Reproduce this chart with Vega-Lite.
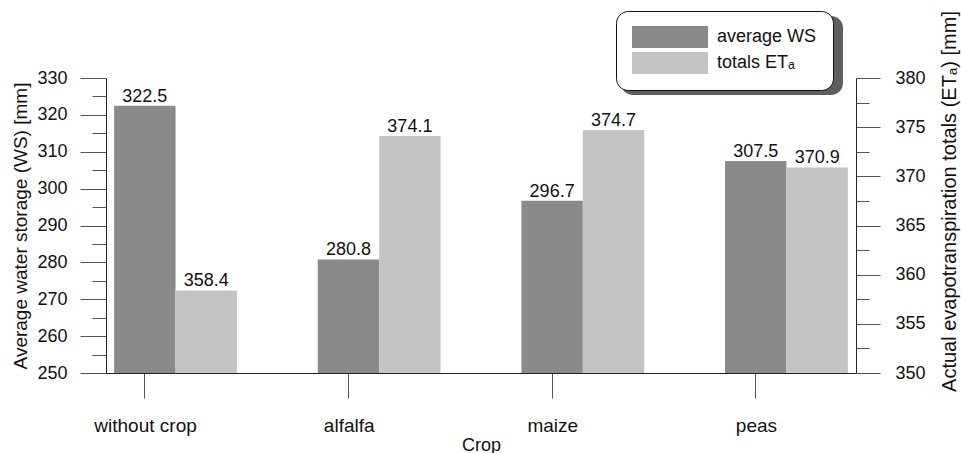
{
  "$schema": "https://vega.github.io/schema/vega-lite/v6.json",
  "width": 750,
  "height": 295,
  "autosize": "none",
  "padding": {"left": 106, "top": 78, "right": 105, "bottom": 80},
  "background": "white",
  "config": {
    "font": "Liberation Sans",
    "view": {"stroke": null},
    "axis": {
      "labelFont": "Liberation Sans",
      "labelFontSize": 18,
      "labelColor": "#111",
      "titleFont": "Liberation Sans",
      "titleFontSize": 19,
      "titleFontWeight": "normal",
      "titleColor": "#111",
      "domainColor": "#222",
      "tickColor": "#555",
      "grid": false
    },
    "legend": {"labelFont": "Liberation Sans", "labelFontSize": 18, "labelColor": "#111"}
  },
  "data": {
    "values": [
      {"crop": "without crop", "series": "average WS", "value": 322.5},
      {"crop": "without crop", "series": "totals ETₐ", "value": 358.4},
      {"crop": "alfalfa", "series": "average WS", "value": 280.8},
      {"crop": "alfalfa", "series": "totals ETₐ", "value": 374.1},
      {"crop": "maize", "series": "average WS", "value": 296.7},
      {"crop": "maize", "series": "totals ETₐ", "value": 374.7},
      {"crop": "peas", "series": "average WS", "value": 307.5},
      {"crop": "peas", "series": "totals ETₐ", "value": 370.9}
    ]
  },
  "encoding": {
    "x": {
      "field": "crop",
      "type": "nominal",
      "sort": ["without crop", "alfalfa", "maize", "peas"],
      "scale": {"paddingInner": 0.397, "paddingOuter": 0.04},
      "axis": {
        "title": "Crop",
        "labelAngle": 0,
        "bandPosition": 0.25,
        "labelOffset": -30,
        "labelFontSize": 19,
        "tickSize": 25,
        "labelPadding": 18,
        "titleFontSize": 18,
        "titleY": 77,
        "titleBaseline": "alphabetic"
      }
    },
    "xOffset": {
      "field": "series",
      "type": "nominal",
      "scale": {"domain": ["average WS", "totals ETₐ"], "paddingInner": 0, "paddingOuter": 0}
    }
  },
  "layer": [
    {
      "transform": [{"filter": "datum.series === 'average WS'"}],
      "encoding": {
        "y": {
          "field": "value",
          "type": "quantitative",
          "scale": {"domain": [250, 330], "zero": false, "nice": false, "clamp": true},
          "axis": {
            "orient": "left",
            "values": [250, 260, 270, 280, 290, 300, 310, 320, 330],
            "tickSize": 26,
            "labelPadding": 13,
            "title": "Average water storage (WS) [mm]",
            "titleAngle": 270,
            "titleX": -86,
            "titleY": 147.5,
            "titleAlign": "center",
            "titleBaseline": "middle"
          }
        }
      },
      "layer": [
        {
          "mark": {"type": "bar", "strokeWidth": 0},
          "encoding": {
            "fill": {
              "field": "series",
              "type": "nominal",
              "scale": {"range": ["#8a8a8a", "#c4c4c4"]},
              "legend": {
                "orient": "none",
                "legendX": 510,
                "legendY": -67,
                "title": null,
                "symbolType": "M-1,-1.1H6.6V1.1H-1Z",
                "symbolSize": 400,
                "symbolStrokeWidth": 0,
                "labelOffset": 65,
                "padding": 16,
                "rowPadding": 4,
                "strokeColor": "#111",
                "fillColor": "white",
                "cornerRadius": 12,
                "zindex": 2
              }
            },
            "stroke": {
              "field": "series",
              "type": "nominal",
              "scale": {"domain": ["average WS", "totals ETₐ"], "range": ["#5e5e5e", "#5e5e5e"]},
              "legend": {
                "orient": "none",
                "legendX": 515,
                "legendY": -62,
                "title": null,
                "symbolType": "M-1,-1.1H18V1.1H-1Z",
                "symbolSize": 400,
                "symbolStrokeWidth": 0,
                "symbolOpacity": 0,
                "labelExpr": "''",
                "labelOffset": 4,
                "padding": 16,
                "rowPadding": 4,
                "fillColor": "#5e5e5e",
                "cornerRadius": 12,
                "zindex": 1
              }
            }
          }
        },
        {
          "mark": {"type": "text", "baseline": "alphabetic", "dy": -4, "fontSize": 18, "color": "#111"},
          "encoding": {"text": {"field": "value", "type": "quantitative", "format": ".1f"}}
        }
      ]
    },
    {
      "transform": [{"filter": "datum.series === 'totals ETₐ'"}],
      "encoding": {
        "y": {
          "field": "value",
          "type": "quantitative",
          "scale": {"domain": [350, 380], "zero": false, "nice": false, "clamp": true},
          "axis": {
            "orient": "right",
            "values": [350, 355, 360, 365, 370, 375, 380],
            "tickSize": 24,
            "labelPadding": 15,
            "title": "Actual evapotranspiration totals (ETₐ) [mm]",
            "titleFontSize": 20,
            "titleAngle": 270,
            "titleX": 93,
            "titleY": 123,
            "titleAlign": "center",
            "titleBaseline": "middle"
          }
        }
      },
      "layer": [
        {
          "mark": {"type": "bar", "strokeWidth": 0},
          "encoding": {
            "fill": {"field": "series", "type": "nominal"},
            "stroke": {"field": "series", "type": "nominal"}
          }
        },
        {
          "mark": {"type": "text", "baseline": "alphabetic", "dy": -4, "fontSize": 18, "color": "#111"},
          "encoding": {"text": {"field": "value", "type": "quantitative", "format": ".1f"}}
        }
      ]
    },
    {
      "transform": [{"filter": "datum.series === 'average WS'"}],
      "mark": {"type": "point", "opacity": 0},
      "encoding": {
        "y": {
          "field": "value",
          "type": "quantitative",
          "scale": {"domain": [250, 330], "zero": false, "nice": false},
          "axis": {
            "orient": "left",
            "values": [255, 265, 275, 285, 295, 305, 315, 325],
            "tickSize": 14,
            "labels": false,
            "domain": false,
            "title": null
          }
        }
      }
    },
    {
      "transform": [{"filter": "datum.series === 'totals ETₐ'"}],
      "mark": {"type": "point", "opacity": 0},
      "encoding": {
        "y": {
          "field": "value",
          "type": "quantitative",
          "scale": {"domain": [350, 380], "zero": false, "nice": false},
          "axis": {
            "orient": "right",
            "values": [352.5, 357.5, 362.5, 367.5, 372.5, 377.5],
            "tickSize": 13,
            "labels": false,
            "domain": false,
            "title": null
          }
        }
      }
    }
  ],
  "resolve": {"scale": {"y": "independent"}, "axis": {"y": "independent"}}
}
